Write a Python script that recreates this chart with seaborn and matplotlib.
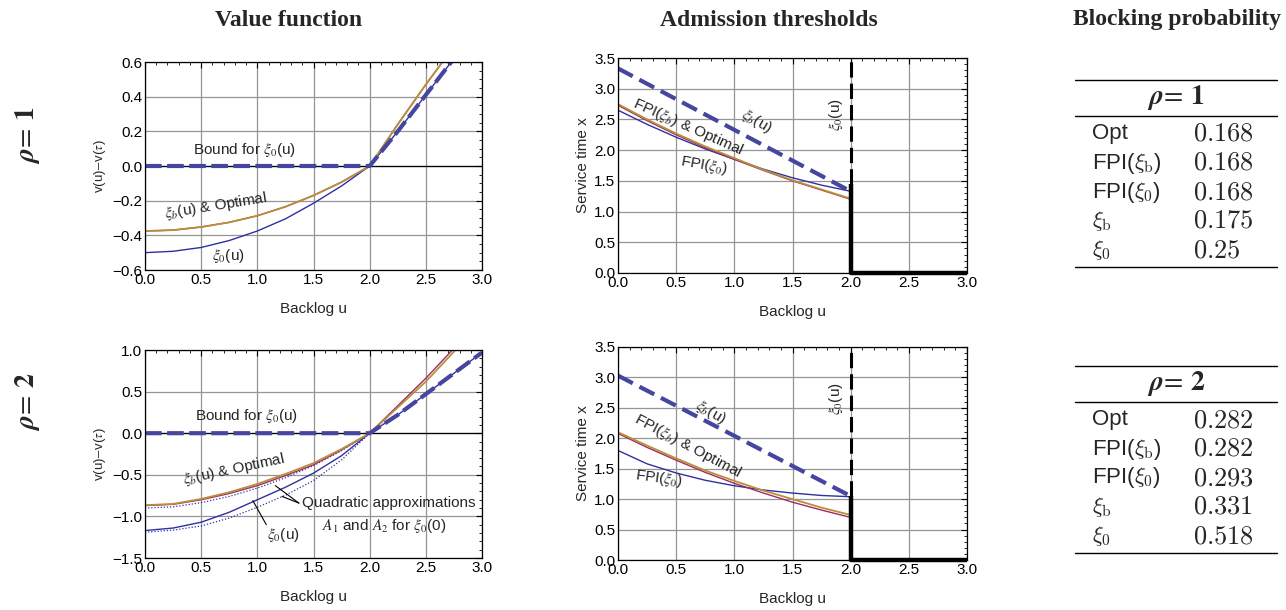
import matplotlib
matplotlib.use("Agg")
import matplotlib.pyplot as plt
from matplotlib.ticker import MultipleLocator, FuncFormatter
import seaborn as sns
import pandas as pd

# backlog grid
U_FULL = [0.0, 0.25, 0.5, 0.75, 1.0, 1.25, 1.5, 1.75, 2.0, 2.25, 2.5, 2.75, 3.0]
U_HALF = U_FULL[:9]

# rho = 1, value function
v1_xi0 = [-0.500, -0.492, -0.470, -0.430, -0.375, -0.305, -0.215, -0.115, 0.0, 0.20, 0.41, 0.62, 0.83]
v1_opt = [-0.375, -0.370, -0.352, -0.325, -0.287, -0.235, -0.170, -0.093, 0.0, 0.24, 0.47, 0.69, 0.91]
v1_bound = [0.0, 0.0, 0.0, 0.0, 0.0, 0.0, 0.0, 0.0, 0.0, 0.20, 0.41, 0.62, 0.83]

# rho = 2, value function
v2_xi0 = [-1.170, -1.140, -1.070, -0.950, -0.800, -0.650, -0.480, -0.270, 0.0, 0.22, 0.47, 0.72, 0.97]
v2_xib = [-0.865, -0.850, -0.790, -0.710, -0.610, -0.490, -0.360, -0.190, 0.0, 0.31, 0.62, 0.98, 1.33]
v2_opt = [-0.870, -0.855, -0.800, -0.725, -0.630, -0.510, -0.380, -0.200, 0.0, 0.33, 0.66, 1.02, 1.38]
v2_bound = [0.0, 0.0, 0.0, 0.0, 0.0, 0.0, 0.0, 0.0, 0.0, 0.22, 0.47, 0.72, 0.97]
v2_quad1 = [-0.900, -0.885, -0.835, -0.760, -0.660, -0.535, -0.390, -0.210, 0.0]
v2_quad2 = [-1.190, -1.165, -1.115, -1.020, -0.890, -0.745, -0.570, -0.320, 0.0]

# rho = 1, admission thresholds
x1_fpi0 = [2.65, 2.42, 2.21, 2.02, 1.85, 1.69, 1.55, 1.43, 1.33]
x1_fpib = [2.75, 2.50, 2.27, 2.06, 1.87, 1.68, 1.51, 1.36, 1.21]
x1_opt = [2.73, 2.48, 2.25, 2.04, 1.85, 1.67, 1.50, 1.35, 1.20]
x1_xib = [3.33, 1.33]
x1_cut = 1.45

# rho = 2, admission thresholds
x2_fpi0 = [1.80, 1.58, 1.43, 1.31, 1.22, 1.15, 1.10, 1.06, 1.04]
x2_fpib = [2.10, 1.88, 1.67, 1.47, 1.30, 1.14, 1.00, 0.86, 0.74]
x2_opt = [2.08, 1.85, 1.64, 1.44, 1.26, 1.10, 0.95, 0.82, 0.70]
x2_xib = [3.03, 1.05]
x2_cut = 1.05

# blocking probability tables
row_names = ["Opt", r"FPI($\xi_{\rm b}$)", r"FPI($\xi_0$)", r"$\xi_{\rm b}$", r"$\xi_0$"]
block_rho1 = ["0.168", "0.168", "0.168", "0.175", "0.25"]
block_rho2 = ["0.282", "0.282", "0.293", "0.331", "0.518"]

BLUE = "#3030a0"
DASH = "#4646a0"
GOLD = "#b8903a"
PURPLE = "#a02a64"
FS = 11

sns.set_theme(style="white")
plt.rcParams["font.family"] = ["Liberation Sans", "DejaVu Sans"]
plt.rcParams["mathtext.fontset"] = "stix"

W, H = 1286, 610
fig = plt.figure(figsize=(W / 100, H / 100), dpi=100)


def box(x0, y0, x1, y1):
    return [x0 / W, 1 - y1 / H, (x1 - x0) / W, (y1 - y0) / H]


def frame(ax, ymaj, ymin):
    ax.set_xlim(0, 3)
    ax.xaxis.set_major_locator(MultipleLocator(0.5))
    ax.xaxis.set_minor_locator(MultipleLocator(0.1))
    ax.yaxis.set_major_locator(MultipleLocator(ymaj))
    ax.yaxis.set_minor_locator(MultipleLocator(ymin))
    ax.tick_params(which="both", direction="in", top=True, right=True,
                   colors="black", labelsize=FS, pad=2)
    ax.tick_params(which="major", length=4, width=0.8)
    ax.tick_params(which="minor", length=2, width=0.6)
    ax.grid(True, which="major", color="#959595", lw=0.9)
    for s in ax.spines.values():
        s.set_color("black")
        s.set_linewidth(0.9)
    ax.yaxis.set_major_formatter(FuncFormatter(
        lambda v, p: f"{v:.1f}".replace("-", "\u2212")))


def curve(ax, xs, ys, **kw):
    df = pd.DataFrame({"u": xs, "v": ys})
    sns.lineplot(data=df, x="u", y="v", ax=ax, **kw)
    ax.set_xlabel("Backlog u", fontsize=FS, labelpad=11)


def value_panel(ax, ylim, ymaj, ymin):
    frame(ax, ymaj, ymin)
    ax.set_ylim(*ylim)
    ax.axhline(0, color="black", lw=0.9, zorder=2)


def thresh_panel(ax, xib, cut, fpi0, fpib, opt):
    frame(ax, 0.5, 0.1)
    ax.set_ylim(0, 3.5)
    curve(ax, U_HALF, fpi0, color=BLUE, lw=1.0)
    curve(ax, U_HALF, opt, color=PURPLE, lw=1.0)
    curve(ax, U_HALF, fpib, color=GOLD, lw=1.3)
    curve(ax, [0.0, 2.0], xib, color=DASH, lw=3.0, dashes=(4, 1.8))
    ax.plot([2, 2], [cut, 3.5], color="black", lw=2.2, dashes=(5, 2))
    ax.plot([2, 2, 3], [cut, 0, 0], color="black", lw=3.2, clip_on=False,
            solid_capstyle="butt")
    ax.set_ylabel("Service time x", fontsize=FS, labelpad=3)


# ---- rho = 1 value function
ax = fig.add_axes(box(145, 62, 482, 270))
value_panel(ax, (-0.6, 0.6), 0.2, 0.05)
curve(ax, U_FULL, v1_xi0, color=BLUE, lw=1.0)
curve(ax, U_FULL, v1_opt, color=PURPLE, lw=1.0)
curve(ax, U_FULL, v1_opt, color=GOLD, lw=1.3)
curve(ax, U_FULL, v1_bound, color=DASH, lw=3.0, dashes=(4, 1.3))
ax.set_ylabel(r"v(u)$-$v($\tau$)", fontsize=9.5, labelpad=3)
ax.text(0.89, 0.095, r"Bound for $\xi_0$(u)", fontsize=FS, ha="center", va="center")
ax.text(0.63, -0.23, r"$\xi_b$(u) & Optimal", fontsize=FS, ha="center", va="center",
        rotation=9)
ax.text(0.74, -0.52, r"$\xi_0$(u)", fontsize=FS, ha="center", va="center")

# ---- rho = 2 value function
ax = fig.add_axes(box(145, 350, 482, 558))
value_panel(ax, (-1.5, 1.0), 0.5, 0.1)
curve(ax, U_HALF, v2_quad1, color=BLUE, lw=0.9, dashes=(1, 1.5))
curve(ax, U_HALF, v2_quad2, color=BLUE, lw=0.9, dashes=(1, 1.5))
curve(ax, U_FULL, v2_xi0, color=BLUE, lw=1.0)
curve(ax, U_FULL, v2_opt, color=PURPLE, lw=1.0)
curve(ax, U_FULL, v2_xib, color=GOLD, lw=1.3)
curve(ax, U_FULL, v2_bound, color=DASH, lw=3.0, dashes=(4, 1.3))
ax.set_ylabel(r"v(u)$-$v($\tau$)", fontsize=9.5, labelpad=3)
ax.text(0.9, 0.21, r"Bound for $\xi_0$(u)", fontsize=FS, ha="center", va="center")
ax.text(0.79, -0.44, r"$\xi_b$(u) & Optimal", fontsize=FS, ha="center", va="center",
        rotation=12)
ax.text(1.40, -0.84, "Quadratic approximations", fontsize=FS, ha="left", va="center")
ax.text(1.58, -1.12, r"$A_1$ and $A_2$ for $\xi_0$(0)", fontsize=FS, ha="left",
        va="center")
ax.text(1.23, -1.22, r"$\xi_0$(u)", fontsize=FS, ha="center", va="center")
ax.plot([1.37, 1.16], [-0.84, -0.63], color="black", lw=0.8)
ax.plot([1.37, 1.22], [-0.84, -0.76], color="black", lw=0.8)
ax.plot([1.08, 0.96], [-1.1, -0.81], color="black", lw=0.8)

# ---- rho = 1 thresholds
ax = fig.add_axes(box(618, 58, 967, 273))
thresh_panel(ax, x1_xib, x1_cut, x1_fpi0, x1_fpib, x1_opt)
ax.text(0.60, 2.38, r"FPI($\xi_b$) & Optimal", fontsize=FS, ha="center", va="center",
        rotation=-24)
ax.text(0.74, 1.76, r"FPI($\xi_0$)", fontsize=FS, ha="center", va="center",
        rotation=-10)
ax.text(1.19, 2.47, r"$\xi_b$(u)", fontsize=FS, ha="center", va="center", rotation=-30)
ax.text(1.87, 2.57, r"$\xi_0$(u)", fontsize=FS, ha="center", va="center", rotation=90)

# ---- rho = 2 thresholds
ax = fig.add_axes(box(618, 347, 967, 560))
thresh_panel(ax, x2_xib, x2_cut, x2_fpi0, x2_fpib, x2_opt)
ax.text(0.60, 1.88, r"FPI($\xi_b$) & Optimal", fontsize=FS, ha="center", va="center",
        rotation=-28)
ax.text(0.35, 1.34, r"FPI($\xi_0$)", fontsize=FS, ha="center", va="center",
        rotation=-8)
ax.text(0.80, 2.43, r"$\xi_b$(u)", fontsize=FS, ha="center", va="center", rotation=-30)
ax.text(1.87, 2.65, r"$\xi_0$(u)", fontsize=FS, ha="center", va="center", rotation=90)

# ---- column titles and row labels
title_kw = dict(fontsize=17, fontweight="bold", family="Liberation Serif",
                ha="center", va="center")
fig.text(289 / W, 1 - 20 / H, "Value function", **title_kw)
fig.text(769 / W, 1 - 20 / H, "Admission thresholds", **title_kw)
fig.text(1177 / W, 1 - 20 / H, "Blocking probability", **title_kw)
for yy, lab in [(135, r"$\boldsymbol{\rho}\!=\,\mathbf{1}$"),
                (402, r"$\boldsymbol{\rho}\!=\,\mathbf{2}$")]:
    fig.text(28 / W, 1 - yy / H, lab, fontsize=20, rotation=90, ha="center",
             va="center", math_fontfamily="stix")


# ---- tables
def table(top, header_y, mid, rows_y, bottom, head, vals):
    for yy in (top, mid, bottom):
        fig.add_artist(plt.Line2D([1075 / W, 1277 / W], [1 - yy / H] * 2,
                                  color="black", lw=1.0))
    fig.text(1176 / W, 1 - header_y / H, head, fontsize=20, ha="center",
             va="center", math_fontfamily="stix")
    for yy, name, val in zip(rows_y, row_names, vals):
        fig.text(1092 / W, 1 - yy / H, name, fontsize=16, ha="left",
                 va="center", math_fontfamily="cm")
        fig.text(1193 / W, 1 - yy / H, f"${val}$", fontsize=19, ha="left",
                 va="center", math_fontfamily="cm")


table(80, 97, 116, [134, 163, 192, 221, 250], 267,
      r"$\boldsymbol{\rho}\!=\, \mathbf{1}$", block_rho1)
table(366, 384, 402, [420, 449, 478, 507, 536], 553,
      r"$\boldsymbol{\rho}\!=\, \mathbf{2}$", block_rho2)

fig.savefig("out.png", dpi=100)
